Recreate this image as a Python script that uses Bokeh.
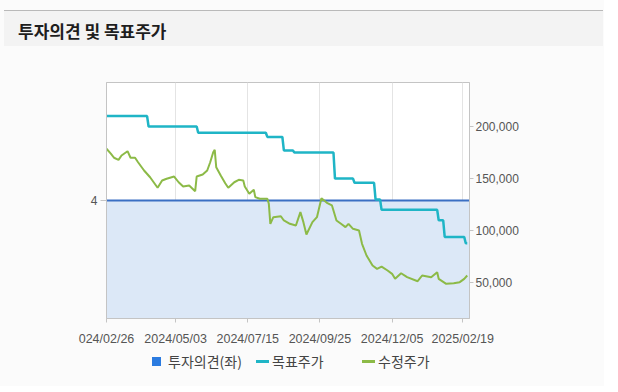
import numpy as np
from bokeh.plotting import figure
from bokeh.models import Range1d, LinearAxis, FixedTicker, NumeralTickFormatter, Div
from bokeh.layouts import column
from bokeh.embed import file_html
from bokeh.resources import INLINE

# ---------------- data ----------------
title_text = "투자의견 및 목표주가"
legend_labels = ["투자의견(좌)", "목표주가", "수정주가"]

# x axis: trading-day index, tick labels at these indices
n_days = 241
tick_idx = [0, 46, 94, 142, 190, 237]
tick_labels = ["024/02/26", "2024/05/03", "2024/07/15", "2024/09/25", "2024/12/05", "2025/02/19"]

# investment opinion (left axis)
opinion_value = 4
opinion_ticks = [4]

# target price (right axis): trading-day index where a new target starts, and its value
target_idx = [0, 28, 61, 107, 118, 125, 152, 165, 179, 183, 221, 225, 239]
target_val = [210000, 200000, 194000, 190000, 177000, 175000, 150000, 146000,
              130000, 120000, 110000, 94000, 88000]

# adjusted price (right axis)
price_idx = [0, 3, 5, 8, 10, 14, 16, 19, 21, 25, 29, 34, 37, 40, 45, 48, 51, 55, 59, 60,
             64, 67, 69, 71, 72, 73, 76, 79, 81, 85, 88, 91, 92, 95, 98, 99, 102, 107, 108, 109,
             111, 116, 118, 122, 126, 129, 131, 133, 137, 140, 143, 147, 150, 153, 156, 159, 161, 164, 168, 170,
             173, 177, 180, 183, 187, 190, 192, 196, 200, 207, 210, 216, 220, 221, 226, 231, 235, 238, 240]
price_val = [178600, 173800, 170000, 168000, 172200, 176300, 170000, 170000, 165700, 157800,
             151300, 141200, 148200, 149800, 152000, 146500, 142400, 143400, 137900, 152000,
             153900, 157800, 165700, 175300, 177600, 160900, 153000, 145600, 141200, 146500,
             148800, 148200, 142400, 135400, 139300, 132200, 130600, 130600, 125800, 106600,
             113000, 113900, 109800, 106600, 105000, 117800, 108200, 96400, 108200, 113000,
             131200, 126400, 124200, 109800, 106600, 103400, 106600, 101800, 100200, 87400,
             76200, 66600, 63400, 65600, 61800, 58600, 53800, 59200, 55400, 51500,
             57000, 55400, 60200, 53800, 49000, 49600, 50600, 53800, 57000]

price_ticks = [50000, 100000, 150000, 200000]

# ---------------- styling ----------------
W = 604
BODY = "#fbfbfb"
FONT_KR = "Noto Sans CJK KR"
FONT_NUM = "Liberation Sans"
GRID = "#e4e4e4"
FRAME = "#c4c4c4"
C_OPIN_LINE = "#3a6fc3"
C_OPIN_FILL = "#dce8f7"
C_OPIN_KEY = "#2b7be0"
C_TARGET = "#1fb5c6"
C_PRICE = "#8cba47"

# ---------------- header ----------------
hdr_html = (
    '<div style="margin:10px 0 0 4px;width:599px;height:36px;box-sizing:border-box;'
    'border-top:1px solid #b9b9b9;background:#f3f3f3;padding:5px 0 0 14px;'
    "font-family:'Noto Sans CJK KR';font-weight:bold;font-size:17px;line-height:30px;"
    'color:#1e1e1e;white-space:nowrap;">' + title_text + '</div>'
)
hdr = Div(text=hdr_html, width=W, height=47, margin=0)

# ---------------- main chart ----------------
x_end = n_days + 0.5
p = figure(width=W, height=303, x_range=Range1d(0, x_end), y_range=Range1d(0, 8),
           output_backend="svg", toolbar_location=None,
           min_border_left=106, min_border_right=135, min_border_top=35, min_border_bottom=32)
p.extra_y_ranges = {"price": Range1d(15740, 242220)}
p.background_fill_color = "#ffffff"
p.border_fill_color = BODY
p.outline_line_color = FRAME

# opinion area + line
p.varea(x=[0, x_end], y1=[0, 0], y2=[opinion_value, opinion_value], fill_color=C_OPIN_FILL)
p.line(x=[0, x_end], y=[opinion_value, opinion_value], line_color=C_OPIN_LINE, line_width=2)

# target price as daily held values
days = np.arange(n_days)
target_daily = np.empty(n_days)
for k, start in enumerate(target_idx):
    end = target_idx[k + 1] if k + 1 < len(target_idx) else n_days
    target_daily[start:end] = target_val[k]
p.line(x=days, y=target_daily, y_range_name="price", line_color=C_TARGET, line_width=2.5)

p.line(x=price_idx, y=price_val, y_range_name="price", line_color=C_PRICE, line_width=2)

# axes
p.xaxis.ticker = FixedTicker(ticks=tick_idx)
p.xaxis.major_label_overrides = {i: lab for i, lab in zip(tick_idx, tick_labels)}
p.yaxis.ticker = FixedTicker(ticks=opinion_ticks)

for ax in [p.xaxis[0], p.yaxis[0]]:
    ax.axis_line_color = FRAME
    ax.major_tick_line_color = FRAME
    ax.minor_tick_line_color = None
    ax.major_tick_in = 0
    ax.major_label_text_font = FONT_NUM
    ax.major_label_text_font_size = "12px"
    ax.major_label_text_color = "#555555"

p.xaxis.major_tick_out = 4
p.xaxis.major_label_standoff = 9
p.xaxis.major_label_text_font_size = "12.5px"
p.yaxis.major_tick_out = 6
p.yaxis.major_label_standoff = 3

ry = LinearAxis(y_range_name="price", ticker=FixedTicker(ticks=price_ticks),
                formatter=NumeralTickFormatter(format="0,0"))
ry.axis_line_color = FRAME
ry.major_tick_line_color = FRAME
ry.minor_tick_line_color = None
ry.major_tick_in = 0
ry.major_tick_out = 4
ry.major_label_standoff = 2
ry.major_label_text_font = FONT_NUM
ry.major_label_text_font_size = "12px"
ry.major_label_text_color = "#555555"
p.add_layout(ry, "right")

p.xgrid.grid_line_color = GRID
p.ygrid.visible = False

# ---------------- legend (HTML row under the chart) ----------------
def key_item(left, kind, color, label):
    if kind == "square":
        mark = (f'<span style="position:absolute;left:{left}px;top:7px;width:9px;height:9px;'
                f'background:{color};"></span>')
        tx = left + 16
    else:
        mark = (f'<span style="position:absolute;left:{left}px;top:10px;width:13px;height:3px;'
                f'background:{color};"></span>')
        tx = left + 16
    text = (f'<span style="position:absolute;left:{tx}px;top:0px;line-height:23px;'
            f"font-family:'Noto Sans CJK KR';font-size:14px;color:#444444;white-space:nowrap;\">"
            f'{label}</span>')
    return mark + text

leg_html = ('<div style="position:relative;width:604px;height:35px;">'
            + key_item(152, "square", C_OPIN_KEY, legend_labels[0])
            + key_item(256, "dash", C_TARGET, legend_labels[1])
            + key_item(362, "dash", C_PRICE, legend_labels[2])
            + '</div>')
leg = Div(text=leg_html, width=W, height=35, margin=0)

# ---------------- footer line ----------------
ftr_html = '<div style="margin:0 0 0 4px;width:599px;height:1px;background:#c8c8c8;"></div>'
ftr = Div(text=ftr_html, width=W, height=1, margin=0)

layout = column(hdr, p, leg, ftr, spacing=0, styles={"background-color": BODY})
open("out.html", "w").write(file_html(layout, INLINE))
